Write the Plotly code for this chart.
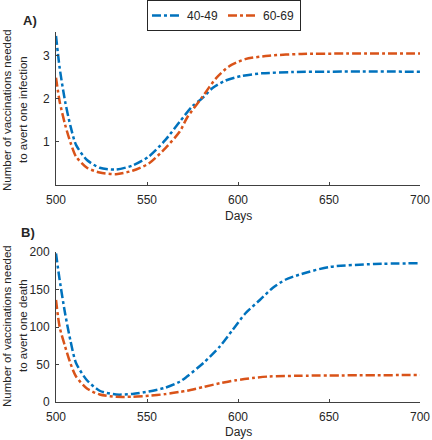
import plotly.graph_objects as go

# ---- data ----
days_a_4049 = [500, 502, 505, 508, 511, 517, 524, 533, 542, 551, 560, 568, 575, 580, 586, 593, 602, 613, 630, 650, 700]
inf_4049 = [3.46, 2.72, 1.94, 1.36, 0.93, 0.58, 0.40, 0.36, 0.45, 0.66, 1.04, 1.47, 1.83, 2.00, 2.25, 2.42, 2.53, 2.59, 2.62, 2.63, 2.63]

days_a_6069 = [500, 502, 505, 508, 511, 517, 524, 533, 542, 551, 560, 568, 572, 580, 588, 595, 604, 617, 635, 660, 700]
inf_6069 = [2.49, 1.94, 1.40, 0.98, 0.66, 0.40, 0.29, 0.25, 0.33, 0.50, 0.85, 1.24, 1.56, 2.02, 2.48, 2.75, 2.92, 3.00, 3.04, 3.05, 3.05]

days_b_4049 = [500, 502, 505, 508, 511, 517, 524, 533, 542, 551, 560, 568, 572, 581, 590, 597, 604, 612, 619, 626, 634, 650, 675, 700]
death_4049 = [198, 163, 118, 81, 52, 29, 15, 10, 10.7, 14, 19, 27, 34, 52, 74, 96, 118, 136, 152, 163, 170, 180, 184, 185]

days_b_6069 = [500, 502, 505, 508, 511, 517, 524, 533, 542, 551, 560, 568, 572, 581, 590, 599, 608, 617, 634, 700]
death_6069 = [136, 100, 74, 51, 34, 18, 10, 7, 7, 8.4, 10.5, 13.5, 15, 20, 25, 29, 32, 34, 35, 36]

series_names = ["40-49", "60-69"]
x_ticks = [500, 550, 600, 650, 700]
ya_ticks = [1, 2, 3]
yb_ticks = [0, 50, 100, 150, 200]

BLUE = "#0072BD"
ORANGE = "#D95319"
DASH = "9px,3px,3px,3px"
FONT = "Liberation Sans, Arial, sans-serif"
AX = "#404040"
LW = 2.5

fig = go.Figure()
fig.add_trace(go.Scatter(x=days_a_4049, y=inf_4049, name=series_names[0], mode="lines",
                         line=dict(color=BLUE, width=LW, dash=DASH, shape="spline", smoothing=0.7),
                         xaxis="x", yaxis="y", legendgroup="a"))
fig.add_trace(go.Scatter(x=days_a_6069, y=inf_6069, name=series_names[1], mode="lines",
                         line=dict(color=ORANGE, width=LW, dash=DASH, shape="spline", smoothing=0.7),
                         xaxis="x", yaxis="y", legendgroup="b"))
fig.add_trace(go.Scatter(x=days_b_4049, y=death_4049, name=series_names[0], mode="lines", showlegend=False,
                         line=dict(color=BLUE, width=LW, dash=DASH, shape="spline", smoothing=0.7),
                         xaxis="x2", yaxis="y2"))
fig.add_trace(go.Scatter(x=days_b_6069, y=death_6069, name=series_names[1], mode="lines", showlegend=False,
                         line=dict(color=ORANGE, width=LW, dash=DASH, shape="spline", smoothing=0.7),
                         xaxis="x2", yaxis="y2"))

axis_common = dict(showline=True, linecolor=AX, linewidth=1, ticks="inside", ticklen=3,
                   tickcolor=AX, showgrid=False, zeroline=False, mirror=False, automargin=False,
                   tickfont=dict(size=12, color="#262626", family=FONT))

fig.update_layout(
    width=432, height=440,
    margin=dict(l=56, r=12, t=32, b=38, autoexpand=False),
    paper_bgcolor="white", plot_bgcolor="white",
    font=dict(family=FONT, size=12, color="#262626"),
    xaxis=dict(domain=[0, 1], range=[500, 700], tickvals=x_ticks, anchor="y",
               ticklabelstandoff=4, **axis_common),
    yaxis=dict(domain=[0.5865, 1], range=[0, 3.55], tickvals=ya_ticks, anchor="x",
               ticklabelstandoff=3, **axis_common),
    xaxis2=dict(domain=[0, 1], range=[500, 700], tickvals=x_ticks, anchor="y2",
                ticklabelstandoff=4, **axis_common),
    yaxis2=dict(domain=[0, 0.4054], range=[0, 200], tickvals=yb_ticks, anchor="x2",
                ticklabelstandoff=3, **axis_common),
    legend=dict(orientation="h", x=0.4615, xanchor="center", y=1.0865, yanchor="top",
                bordercolor="#262626", borderwidth=1, bgcolor="white",
                font=dict(size=12, family=FONT, color="#262626"),
                itemwidth=30, tracegroupgap=0),
    showlegend=True,
)

def ann(text, x, y, size=12, bold=False, angle=0, xanchor="center"):
    fig.add_annotation(text=("<b>%s</b>" % text) if bold else text, x=x, y=y,
                       xref="paper", yref="paper", showarrow=False, textangle=angle,
                       xanchor=xanchor, yanchor="middle",
                       font=dict(size=size, family=FONT, color="#262626"))

def px_x(p):
    return (p - 56) / 364.0

def px_y(p):
    return (402 - p) / 370.0

ann("A)", px_x(30), px_y(20), size=13, bold=True)
ann("B)", px_x(28), px_y(232), size=13, bold=True)
ann("Days", 0.5, px_y(216), size=12)
ann("Days", 0.5, px_y(432), size=12)
ann("Number of vaccinations needed", px_x(7), px_y(110), size=11.5, angle=-90)
ann("to avert one infection", px_x(23), px_y(110), size=11.5, angle=-90)
ann("Number of vaccinations needed", px_x(7), px_y(326), size=11.5, angle=-90)
ann("to avert one death", px_x(23), px_y(326), size=11.5, angle=-90)

fig.write_html("out.html", config={"displayModeBar": False},
               post_script="document.body.style.margin='0';document.body.style.overflow='hidden';")
